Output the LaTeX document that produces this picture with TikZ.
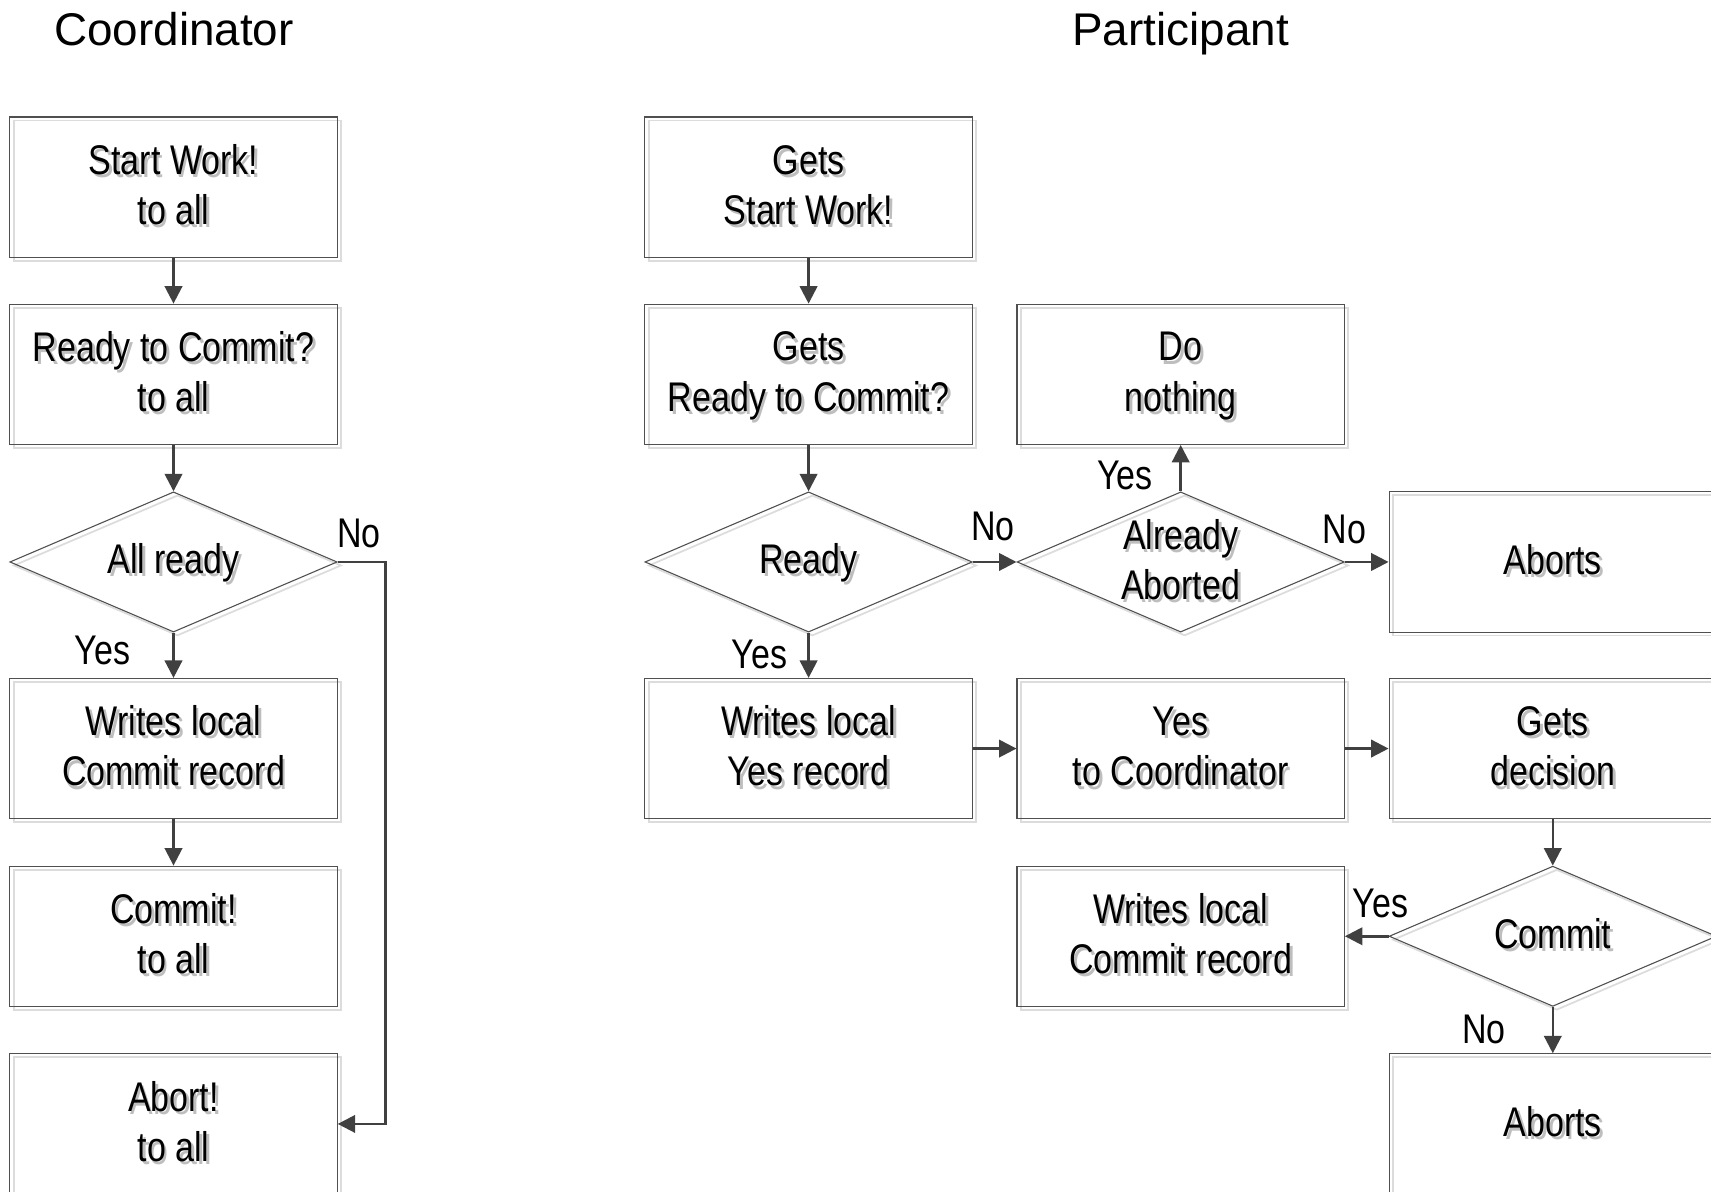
\documentclass[tikz,border=0pt]{standalone}
\usepackage{fontspec}
\setmainfont{Liberation Sans}[FakeStretch=0.82]
\newfontfamily\hdrfont{Liberation Sans}
\usetikzlibrary{arrows.meta,shapes.geometric}
\definecolor{linec}{HTML}{404040}
\definecolor{boxc}{HTML}{505050}
\definecolor{shadc}{HTML}{DCDCDC}
\definecolor{tshadc}{HTML}{BEBEBE}
\newcommand\shtxt[1]{\rule[-0.265em]{0pt}{1.118em}\rlap{\kern1.3pt\raisebox{-1.5pt}{\textcolor{tshadc}{#1}}}#1}
\tikzset{
 shadowbox/.style={preaction={draw=shadc, line width=0.8pt, transform canvas={xshift=1.8pt,yshift=-1.6pt}}},
 procbox/.style={shadowbox, draw=boxc, line width=0.5pt, rectangle, minimum width=150pt, minimum height=64.25pt, inner sep=0pt, align=center, font=\fontsize{19}{23}\selectfont},
 decbox/.style={shadowbox, draw=boxc, line width=0.5pt, diamond, minimum width=150pt, minimum height=64.25pt, inner sep=0pt, aspect=2.34},
 dectext/.style={align=center, inner sep=0pt, font=\fontsize{19}{23}\selectfont},
 lbl/.style={font=\fontsize{19}{23}\selectfont, inner sep=0pt},
 flow/.style={draw=linec, line width=1.15pt, -{Triangle[length=8pt,width=8pt]}},
 hdr/.style={font=\hdrfont\fontsize{21}{25}\selectfont, anchor=base, inner sep=0pt},
}
\begin{document}
\begin{tikzpicture}[x=0.5pt,y=-0.5pt]
\useasboundingbox (0,0) rectangle (1568,1092);
% headers
\node[hdr] (hc) at (159.5,42) {Coordinator};
\node[hdr] (hp) at (1082,42) {Participant};
% coordinator
\node[procbox] (c1) at (159,171.5) {\shtxt{Start Work!}\\\shtxt{to all}};
\node[procbox] (c2) at (159,343) {\shtxt{Ready to Commit?}\\\shtxt{to all}};
\node[decbox] (c3) at (159,515) {};
\node[dectext] (c3t) at (c3) {\shtxt{All ready}};
\node[procbox] (c4) at (159,686) {\shtxt{Writes local}\\\shtxt{Commit record}};
\node[procbox] (c5) at (159,858) {\shtxt{Commit!}\\\shtxt{to all}};
\node[procbox] (c6) at (159,1030) {\shtxt{Abort!}\\\shtxt{to all}};
% participant
\node[procbox] (p1) at (741,171.5) {\shtxt{Gets}\\\shtxt{Start Work!}};
\node[procbox] (p2) at (741,343) {\shtxt{Gets}\\\shtxt{Ready to Commit?}};
\node[decbox] (p3) at (741,515) {};
\node[dectext] (p3t) at (p3) {\shtxt{Ready}};
\node[procbox] (p4) at (1082,343) {\shtxt{Do}\\\shtxt{nothing}};
\node[decbox] (p5) at (1082,515) {};
\node[dectext] (p5t) at (p5) {\shtxt{Already}\\\shtxt{Aborted}};
\node[procbox] (p6) at (1423,515) {\shtxt{Aborts}};
\node[procbox] (p7) at (741,686) {\shtxt{Writes local}\\\shtxt{Yes record}};
\node[procbox] (p8) at (1082,686) {\shtxt{Yes}\\\shtxt{to Coordinator}};
\node[procbox] (p9) at (1423,686) {\shtxt{Gets}\\\shtxt{decision}};
\node[decbox] (p10) at (1423,858) {};
\node[dectext] (p10t) at (p10) {\shtxt{Commit}};
\node[procbox] (p11) at (1082,858) {\shtxt{Writes local}\\\shtxt{Commit record}};
\node[procbox] (p12) at (1423,1030) {\shtxt{Aborts}};
% coordinator flows
\draw[flow] (c1) -- (c2);
\draw[flow] (c2) -- (c3);
\draw[flow] (c3.south) -- (c4.north);
\draw[flow] (c3.east) -- ++(44,0) |- (c6.east);
\draw[flow] (c4) -- (c5);
\node[lbl] (l1) at (94,596) {Yes};
\node[lbl] (l2) at (329,489) {No};
% participant flows
\draw[flow] (p1) -- (p2);
\draw[flow] (p2) -- (p3);
\draw[flow] (p3.south) -- (p7.north);
\draw[flow] (p3.east) -- (p5.west);
\draw[flow] (p5.north) -- (p4.south);
\draw[flow] (p5.east) -- (p6.west);
\draw[flow] (p7) -- (p8);
\draw[flow] (p8) -- (p9);
\draw[flow] (p9) -- (p10);
\draw[flow] (p10.west) -- (p11.east);
\draw[flow] (p10.south) -- (p12.north);
\node[lbl] (l3) at (696,600) {Yes};
\node[lbl] (l4) at (910,482) {No};
\node[lbl] (l5) at (1031,436) {Yes};
\node[lbl] (l6) at (1232,485) {No};
\node[lbl] (l7) at (1265,828) {Yes};
\node[lbl] (l8) at (1360,943) {No};
\end{tikzpicture}
\end{document}
